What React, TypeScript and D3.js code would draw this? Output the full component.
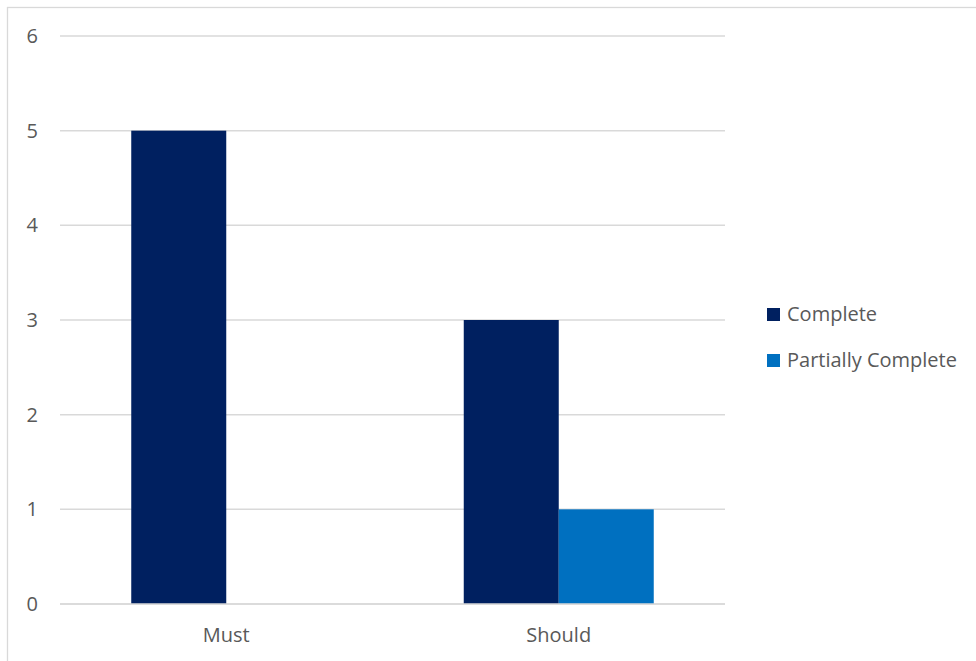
import React from "react";
import * as d3 from "d3";

const categories = ["Must", "Should"];
const seriesNames = ["Complete", "Partially Complete"];
const completeValues = [5, 3];
const partialValues = [0, 1];
const yTicks = [0, 1, 2, 3, 4, 5, 6];
const colors = ["#002060", "#0070C0"];

const W = 976;
const H = 661;
const left = 60;
const right = 725;
const top = 36;
const bottom = 604;
const FONT = "'Open Sans', 'Liberation Sans', sans-serif";
const FS = 20;

export default function App() {
  const x = d3.scaleBand<string>().domain(categories).range([left, right]).paddingInner(0).paddingOuter(0);
  const y = d3.scaleLinear().domain([0, 6]).range([bottom, top]);
  const inner = d3
    .scaleBand<string>()
    .domain(seriesNames)
    .range([0, x.bandwidth()])
    .paddingInner(0)
    .paddingOuter(0.75);
  const seriesValues = [completeValues, partialValues];

  return (
    <svg
      width={W}
      height={H}
      style={{ position: "absolute", left: 0, top: 0, background: "#fff" }}
      fontFamily={FONT}
    >
      <rect x={7.5} y={7.5} width={W + 10} height={H + 10} fill="#fff" stroke="#D9D9D9" strokeWidth={1.3} />
      {yTicks.map((t) => (
        <g key={t}>
          <line x1={left} x2={right} y1={y(t)} y2={y(t)} stroke="#D9D9D9" strokeWidth={1.5} />
          <text x={38} y={y(t)} dy="0.35em" textAnchor="end" fontSize={FS} fill="#595959">
            {t}
          </text>
        </g>
      ))}
      {seriesNames.map((s, si) =>
        categories.map((c, ci) => {
          const v = seriesValues[si][ci];
          if (!v) return null;
          return (
            <rect
              key={s + c}
              x={(x(c) as number) + (inner(s) as number)}
              y={y(v)}
              width={inner.bandwidth()}
              height={y(0) - y(v)}
              fill={colors[si]}
            />
          );
        })
      )}
      <line x1={left} x2={right} y1={y(0)} y2={y(0)} stroke="#D9D9D9" strokeWidth={1.5} />
      {categories.map((c) => (
        <text
          key={c}
          x={(x(c) as number) + x.bandwidth() / 2}
          y={642}
          textAnchor="middle"
          fontSize={FS}
          fill="#595959"
        >
          {c}
        </text>
      ))}
      {seriesNames.map((s, i) => (
        <g key={s} transform={`translate(767, ${308 + i * 46})`}>
          <rect x={0} y={0} width={13} height={13} fill={colors[i]} />
          <text x={20} y={13} fontSize={FS} fill="#595959">
            {s}
          </text>
        </g>
      ))}
    </svg>
  );
}
